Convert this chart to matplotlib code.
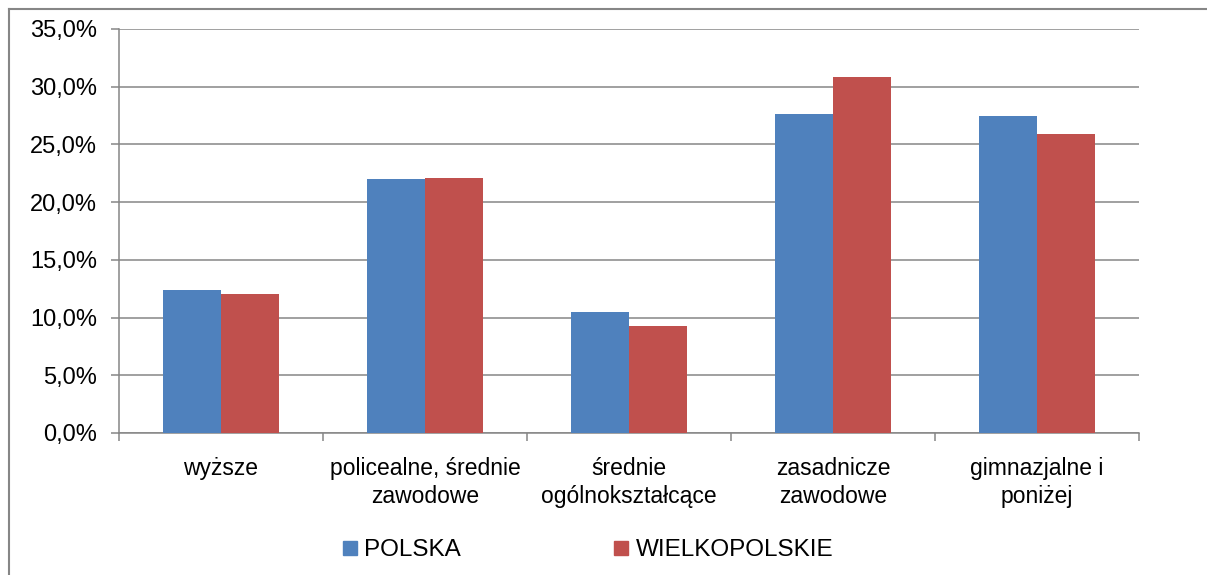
import numpy as np
import matplotlib
matplotlib.use("Agg")
import matplotlib.pyplot as plt
from matplotlib.lines import Line2D
from matplotlib.ticker import FuncFormatter, FixedLocator

categories = ["wyższe", "policealne, średnie\nzawodowe", "średnie\nogólnokształcące",
              "zasadnicze\nzawodowe", "gimnazjalne i\nponiżej"]
polska = [12.4, 22.0, 10.5, 27.6, 27.5]
wielkopolskie = [12.0, 22.1, 9.3, 30.8, 25.9]
series_names = ["POLSKA", "WIELKOPOLSKIE"]

BLUE = "#4F81BD"
RED = "#C0504D"
GRID = "#868686"

plt.rcParams["font.family"] = ["Liberation Sans", "DejaVu Sans"]

W, H = 1207, 575
fig = plt.figure(figsize=(W / 100, H / 100), dpi=100)
ax = fig.add_axes([119 / W, 1 - 433 / H, (1139 - 119) / W, (433 - 29) / H])

x = np.arange(len(categories))
bw = 1 / 3.5
ax.bar(x - bw / 2, polska, bw, color=BLUE, label=series_names[0], zorder=3)
ax.bar(x + bw / 2, wielkopolskie, bw, color=RED, label=series_names[1], zorder=3)

ax.set_xlim(-0.5, len(categories) - 0.5)
ax.set_ylim(0, 35)
ax.set_yticks(np.arange(0, 36, 5))
ax.yaxis.set_major_formatter(FuncFormatter(lambda v, p: f"{v:.1f}%".replace(".", ",")))
ax.yaxis.grid(True, color=GRID, linewidth=1.1, zorder=0)

ax.xaxis.set_major_locator(FixedLocator(np.arange(-0.5, len(categories), 1.0)))
ax.xaxis.set_major_formatter(FuncFormatter(lambda v, p: ""))
ax.xaxis.set_minor_locator(FixedLocator(x))
ax.set_xticklabels(categories, minor=True)
ax.tick_params(axis="x", which="minor", length=0, pad=17, labelsize=16.5)
ax.tick_params(axis="x", which="major", length=6, width=1.1, color=GRID, direction="out")
ax.tick_params(axis="y", length=6, width=1.1, color=GRID, labelsize=17, pad=10)
for lbl in ax.get_xticklabels(minor=True):
    lbl.set_linespacing(1.3)

for s in ["top", "right"]:
    ax.spines[s].set_visible(False)
for s in ["left", "bottom"]:
    ax.spines[s].set_color(GRID)
    ax.spines[s].set_linewidth(1.1)

handles = [Line2D([], [], marker="s", linestyle="none", markersize=10, color=BLUE),
           Line2D([], [], marker="s", linestyle="none", markersize=10, color=RED)]
fig.legend(handles, series_names, loc="center", ncol=2,
           bbox_to_anchor=(588 / W, 1 - 550 / H), frameon=False, fontsize=17.5,
           handlelength=0.6, handletextpad=0.3, columnspacing=6.3)

# outer chart border (top and left visible)
fig.add_artist(Line2D([9 / W, 1], [1 - 9 / H, 1 - 9 / H], color=GRID, linewidth=1.5,
                      transform=fig.transFigure))
fig.add_artist(Line2D([9 / W, 9 / W], [0, 1 - 9 / H], color=GRID, linewidth=1.5,
                      transform=fig.transFigure))

fig.savefig("out.png", dpi=100)
